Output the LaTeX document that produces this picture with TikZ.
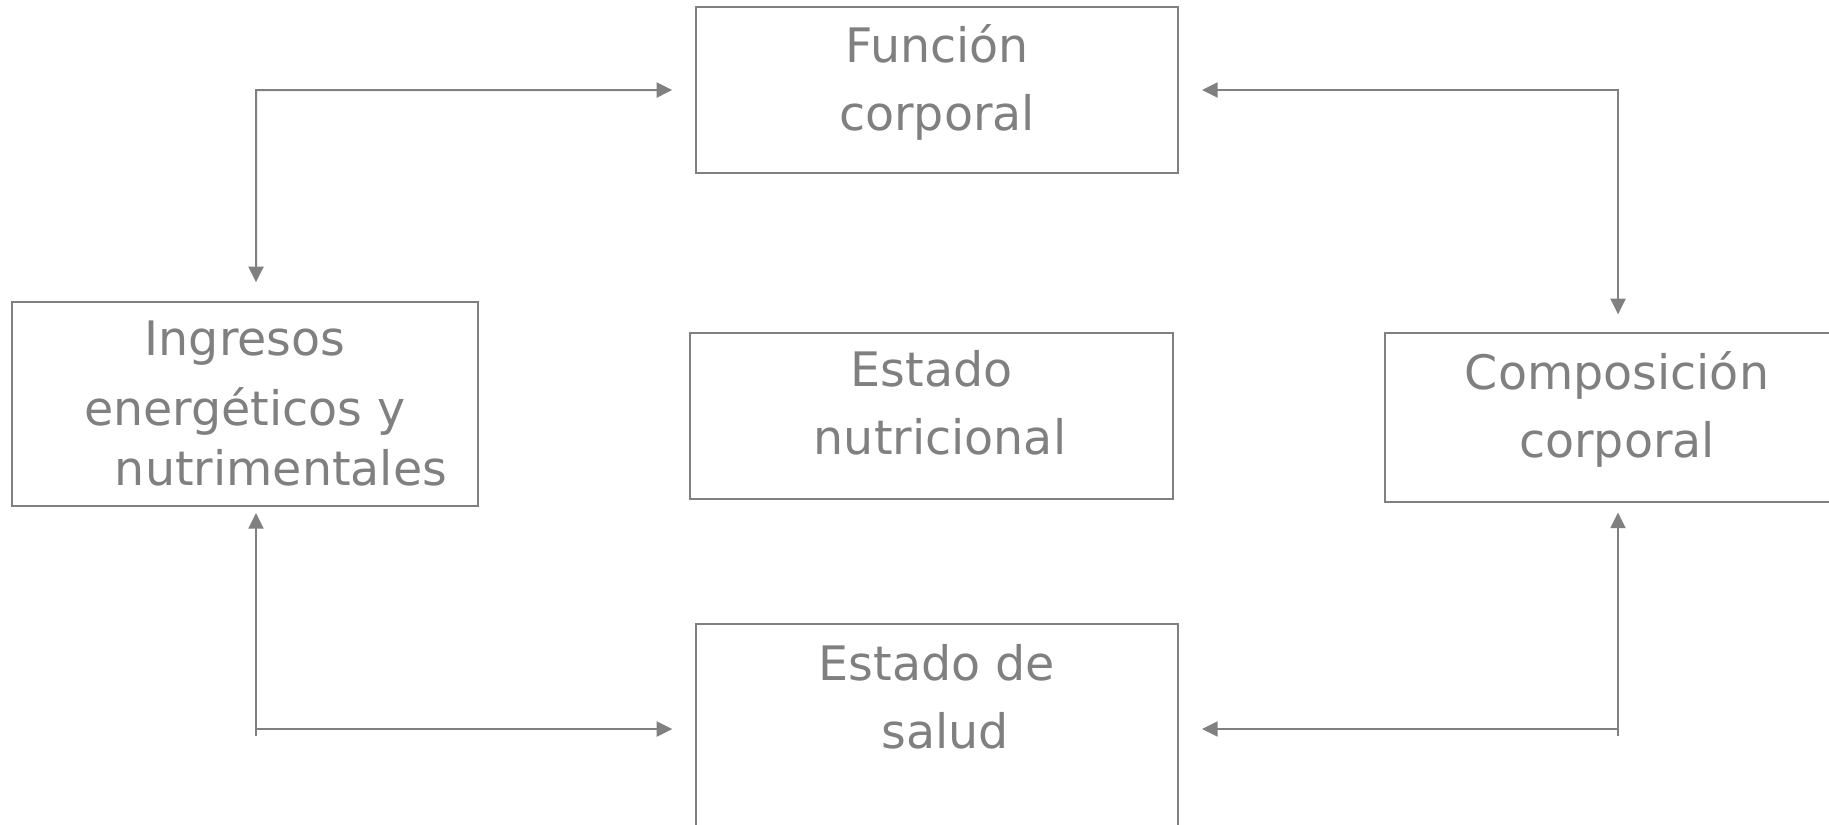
\documentclass[tikz,border=0pt]{standalone}
\usepackage{fontspec}
\setmainfont{DejaVu Sans}
\usetikzlibrary{arrows.meta}
\definecolor{gc}{RGB}{128,128,128}
\newcommand{\bxt}[4]{\parbox[t][#2][t]{#1}{\centering\fontsize{47.5bp}{68bp}\selectfont\rule{0pt}{#3}#4}}
\begin{document}
\begin{tikzpicture}[x=1bp,y=-1bp,
  box/.style={draw=gc, line width=2bp, inner sep=0pt, outer sep=0pt, anchor=north west, text=gc, rectangle},
  conn/.style={draw=gc, line width=2bp},
  >={Triangle[length=15.6bp,width=15bp]}]
\useasboundingbox (0,0) rectangle (1829,825);
\fill[white] (0,0) rectangle (1829,825);

\node[box] (fun) at (696,7) {\bxt{482bp}{166bp}{55.3bp}{Función\\corporal}};
\node[box] (ing) at (12,302) {\bxt{466bp}{204bp}{53bp}{Ingresos\\[2bp]energéticos y\\[-8bp]\hspace*{72bp}nutrimentales}};
\node[box] (nut) at (690,333) {\bxt{483bp}{166bp}{53.7bp}{Estado\\\hspace*{17bp}nutricional}};
\node[box] (comp) at (1385,333) {\bxt{464bp}{169bp}{56.3bp}{Composición\\corporal}};
\node[box] (sal) at (696,624) {\bxt{482bp}{221bp}{56bp}{Estado de\\\hspace*{16bp}salud}};

\coordinate (c1) at (256,90);
\coordinate (c2) at (1618,90);
\coordinate (c3) at (256,729);
\coordinate (c4) at (1618,729);
\coordinate (s3) at (256,736);
\coordinate (s4) at (1618,736);

\draw[conn,<->,shorten <=19.7bp,shorten >=23.7bp] (c1 |- ing.north) -- (c1) -- (fun.west -| fun.west);
\draw[conn,<->,shorten <=18.7bp,shorten >=24bp] (c2 |- comp.north) -- (c2) -- (c2 -| fun.east);
\draw[conn,->,shorten >=7bp] (s3) -- (c3 |- ing.south);
\draw[conn,->,shorten >=23.7bp] (c3) -- (c3 -| sal.west);
\draw[conn,->,shorten >=10.5bp] (s4) -- (c4 |- comp.south);
\draw[conn,->,shorten >=24bp] (c4) -- (c4 -| sal.east);
\end{tikzpicture}
\end{document}
